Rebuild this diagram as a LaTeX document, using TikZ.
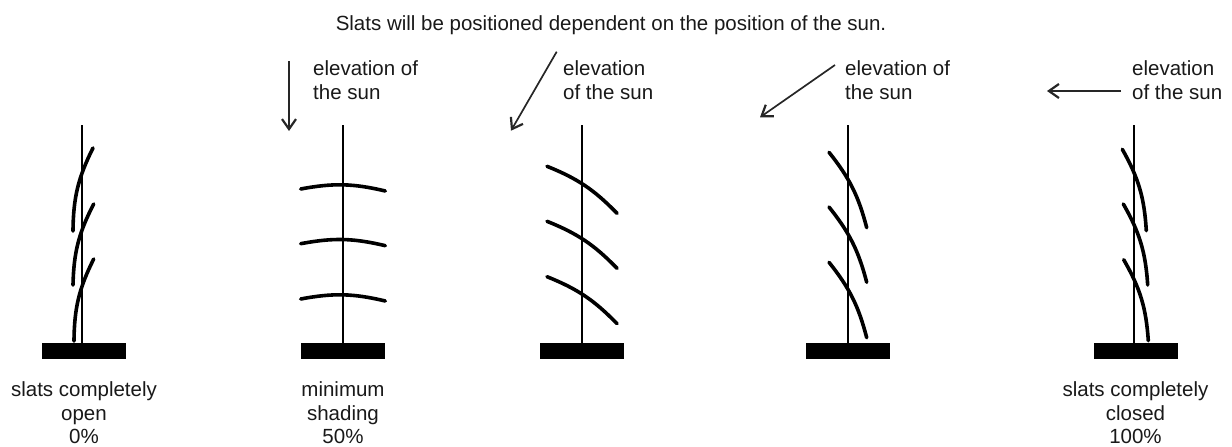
\documentclass[tikz,border=0pt]{standalone}
\usepackage{fontspec}
\setmainfont{Liberation Sans}
\usepackage{xcolor}
\usetikzlibrary{positioning,arrows.meta}
\definecolor{arrowgray}{RGB}{38,38,38}

\begin{document}
\begin{tikzpicture}[
  x=1pt, y=-1pt,
  base/.style={fill=black, inner sep=0pt, minimum width=84pt, minimum height=15.5pt},
  pole/.style={line width=1.8pt},
  slat/.style={line width=3.6pt, line cap=round},
  sun/.style={-{Straight Barb[length=10pt,width=14pt,line width=2.2pt]}, line width=1.7pt, arrowgray},
  label/.style={font=\fontsize{20.5}{24}\selectfont, align=left, inner sep=0pt, anchor=north west, text=black!90},
  caption/.style={font=\fontsize{20.5}{23.6}\selectfont, align=center, inner sep=0pt, text=black!90}
]
\useasboundingbox (0,0) rectangle (1232,447);

\node[label, align=center, anchor=center] (title) at (611,25) {Slats will be positioned dependent on the position of the sun.};

% bases and poles
\node[base] (base1) at (84,351) {};
\node[base] (base2) at (343,351) {};
\node[base] (base3) at (582,351) {};
\node[base] (base4) at (848,351) {};
\node[base] (base5) at (1135.5,351) {};

\coordinate (top1) at (82,125);
\coordinate (top2) at (343,125);
\coordinate (top3) at (582,125);
\coordinate (top4) at (848,125);
\coordinate (top5) at (1134,125);

\draw[pole] (top1) -- (top1 |- base1.north);
\draw[pole] (top2) -- (top2 |- base2.north);
\draw[pole] (top3) -- (top3 |- base3.north);
\draw[pole] (top4) -- (top4 |- base4.north);
\draw[pole] (top5) -- (top5 |- base5.north);

% slats
\draw[slat] (93,148) to[bend right=13] (73,231);
\draw[slat] (93.7,204) to[bend right=13] (73,285);
\draw[slat] (93.7,259) to[bend right=13] (74,341);

\draw[slat] (300.7,189) to[bend left=12] (385.3,191);
\draw[slat] (300.7,243.7) to[bend left=12] (385.3,245.7);
\draw[slat] (300.7,299) to[bend left=12] (385.3,301);

\draw[slat] (547,166.3) to[bend left=12] (617,213.3);
\draw[slat] (547,221.3) to[bend left=12] (617,268.3);
\draw[slat] (547,276.7) to[bend left=12] (617,323.7);

\draw[slat] (829,152.3) to[bend left=12] (866.7,227.7);
\draw[slat] (829,207) to[bend left=12] (866.7,282.3);
\draw[slat] (829,262.3) to[bend left=12] (866.7,337.7);

\draw[slat] (1122.3,149.3) to[bend left=13] (1146.3,230.7);
\draw[slat] (1123.3,204) to[bend left=13] (1147.7,285);
\draw[slat] (1123.7,259.7) to[bend left=13] (1148.3,340.7);

% sun direction
\coordinate (sunA) at (289,61);
\coordinate (sunAend) at (289,131);
\coordinate (sunB) at (556.7,51.7);
\coordinate (sunBend) at (511,130.7);
\coordinate (sunC) at (835,65);
\coordinate (sunCend) at (760,117.3);
\coordinate (sunD) at (1121,91);
\coordinate (sunDend) at (1047,91);

\draw[sun] (sunA) -- (sunAend);
\draw[sun] (sunB) -- (sunBend);
\draw[sun] (sunC) -- (sunCend);
\draw[sun] (sunD) -- (sunDend);

\node[label] (elevA) at (313,60.5) {elevation of\\the sun};
\node[label] (elevB) at (563,60.5) {elevation\\of the sun};
\node[label] (elevC) at (845,60.5) {elevation of\\the sun};
\node[label] (elevD) at (1132,60.5) {elevation\\of the sun};

\node[caption, below=22.5pt of base1] (capA) {slats completely\\open\\0\%};
\node[caption, below=22.5pt of base2] (capB) {minimum\\shading\\50\%};
\node[caption, below=22.5pt of base5] (capC) {slats completely\\closed\\100\%};
\end{tikzpicture}
\end{document}
